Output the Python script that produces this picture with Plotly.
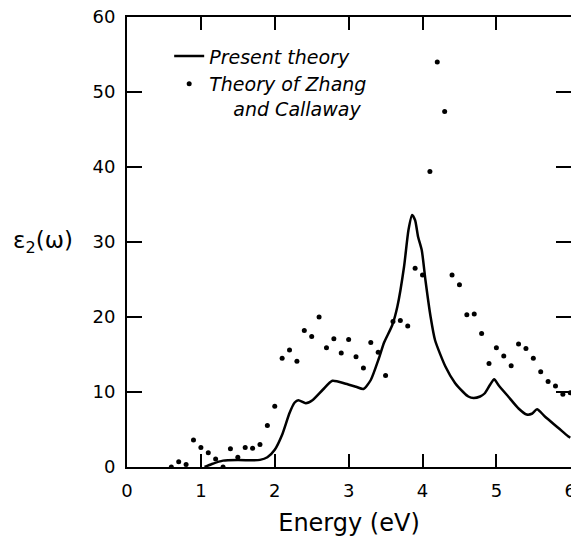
import plotly.graph_objects as go

# Present theory (solid curve)
curve_energy = [1.05, 1.15, 1.3, 1.5, 1.7, 1.8, 1.9, 2.0, 2.1, 2.2, 2.27, 2.32, 2.42, 2.51,
                2.65, 2.78, 2.96, 3.1, 3.2, 3.3, 3.41, 3.48, 3.59, 3.66, 3.75, 3.81, 3.86,
                3.9, 3.94, 3.99, 4.04, 4.11, 4.17, 4.31, 4.44, 4.55, 4.62, 4.69, 4.78, 4.84,
                4.91, 4.97, 5.03, 5.16, 5.3, 5.41, 5.48, 5.55, 5.66, 5.84, 5.97, 6.0]
curve_eps2 = [0.0, 0.4, 0.85, 0.93, 0.9, 0.95, 1.3, 2.3, 4.3, 7.2, 8.6, 8.9, 8.5, 8.9,
              10.3, 11.5, 11.1, 10.7, 10.4, 11.6, 14.5, 16.6, 18.9, 21.4, 26.7, 31.6, 33.6,
              32.9, 30.7, 28.9, 24.9, 20.0, 16.9, 13.4, 11.2, 10.0, 9.4, 9.2, 9.4, 9.8,
              10.9, 11.7, 10.9, 9.4, 7.8, 7.0, 7.1, 7.7, 6.7, 5.2, 4.1, 3.9]

# Theory of Zhang and Callaway (dots)
dot_energy = [0.6, 0.7, 0.8, 0.9, 1.0, 1.1, 1.2, 1.3, 1.4, 1.5, 1.6, 1.7, 1.8, 1.9,
              2.0, 2.1, 2.2, 2.3, 2.4, 2.5, 2.6, 2.7, 2.8, 2.9, 3.0, 3.1, 3.2, 3.3,
              3.4, 3.5, 3.6, 3.7, 3.8, 3.9, 4.0, 4.1, 4.2, 4.3, 4.4, 4.5, 4.6, 4.7,
              4.8, 4.9, 5.0, 5.1, 5.2, 5.3, 5.4, 5.5, 5.6, 5.7, 5.8, 5.9, 6.0]
dot_eps2 = [0.0, 0.7, 0.35, 3.6, 2.6, 1.9, 1.07, 0.0, 2.45, 1.3, 2.6, 2.5, 3.0, 5.55,
            8.1, 14.5, 15.6, 14.1, 18.2, 17.4, 20.0, 15.9, 17.1, 15.2, 17.0, 14.7, 13.2, 16.6,
            15.3, 12.2, 19.4, 19.55, 18.8, 26.5, 25.6, 39.4, 54.0, 47.4, 25.6, 24.3, 20.3, 20.4,
            17.8, 13.8, 15.9, 14.8, 13.5, 16.4, 15.8, 14.5, 12.7, 11.4, 10.8, 9.7, 9.9]

x_ticks = [0, 1, 2, 3, 4, 5, 6]
y_ticks = [0, 10, 20, 30, 40, 50, 60]

FONT = "DejaVu Sans"

fig = go.Figure()
fig.add_trace(go.Scatter(
    x=curve_energy, y=curve_eps2, mode="lines", name="Present theory",
    line=dict(color="black", width=2.5, shape="spline", smoothing=0.6),
))
fig.add_trace(go.Scatter(
    x=dot_energy, y=dot_eps2, mode="markers",
    name="Theory of Zhang<br>\u00a0\u00a0\u00a0\u00a0and Callaway",
    marker=dict(color="black", size=5),
))

fig.update_layout(
    width=571, height=537,
    margin=dict(l=127, r=0, t=17, b=70, autoexpand=False),
    paper_bgcolor="white", plot_bgcolor="white",
    font=dict(family=FONT, color="black", size=17),
    showlegend=True,
    legend=dict(
        x=0.095, y=0.955, xanchor="left", yanchor="top", valign="top",
        bgcolor="rgba(0,0,0,0)", borderwidth=0,
        font=dict(family=FONT, size=19, style="italic", color="black"),
        tracegroupgap=9,
    ),
    xaxis=dict(
        range=[0, 6.01], tickvals=x_ticks, ticktext=[str(v) for v in x_ticks],
        ticks="inside", ticklen=13, tickwidth=1.5, tickcolor="black",
        showline=True, linecolor="black", linewidth=2, mirror="ticks",
        showgrid=False, zeroline=False, ticklabelstandoff=6, automargin=False,
        ticklabeloverflow="allow",
        tickfont=dict(family=FONT, size=18),
        title=dict(text="Energy (eV)", font=dict(family=FONT, size=24), standoff=16),
    ),
    yaxis=dict(
        range=[0, 60], tickvals=y_ticks, ticktext=[str(v) for v in y_ticks],
        ticks="inside", ticklen=15, tickwidth=1.5, tickcolor="black",
        showline=True, linecolor="black", linewidth=2, mirror="ticks",
        showgrid=False, zeroline=False, ticklabelstandoff=6, automargin=False,
        tickfont=dict(family=FONT, size=18),
    ),
    annotations=[dict(
        text="ε<sub>2</sub>(ω)", xref="paper", yref="y", x=-0.19, y=30,
        xanchor="center", yanchor="middle", showarrow=False,
        font=dict(family=FONT, size=23, color="black"),
    )],
)

fig.write_html(
    "out.html",
    config={"displayModeBar": False},
    post_script="document.body.style.margin='0';document.body.style.overflow='hidden';",
)
